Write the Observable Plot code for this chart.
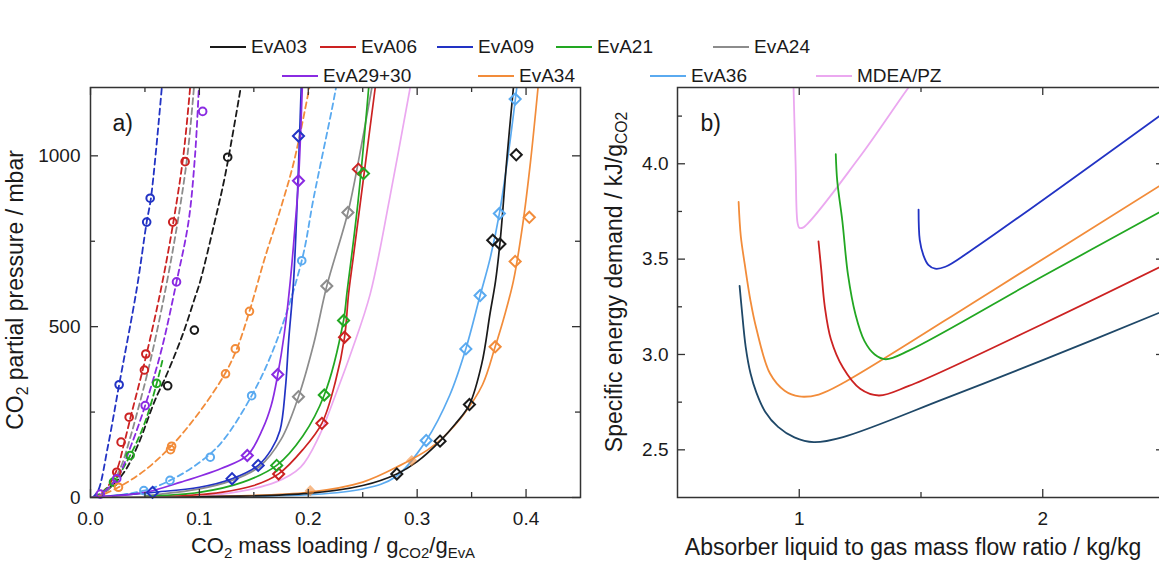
<!DOCTYPE html>
<html><head><meta charset="utf-8">
<script src="https://cdn.jsdelivr.net/npm/d3@7"></script>
<script src="https://cdn.jsdelivr.net/npm/@observablehq/plot@0.6"></script>
<style>
html,body{margin:0;padding:0;background:#fff;overflow:hidden;width:1159px;height:565px}
#root{position:relative;width:1159px;height:565px;overflow:hidden;font-family:"Liberation Sans",Arial,sans-serif;color:#1a1a1a}
.panel{position:absolute;top:0}
.item{position:absolute;display:flex;align-items:center;font-size:19px;line-height:20px;white-space:nowrap}
.sw{display:inline-block;height:2px;width:36px;margin-right:5px}
</style></head><body><div id="root"></div>
<script>
// ---------------- series & colours ----------------
const seriesNames = ["EvA03","EvA06","EvA09","EvA21","EvA24","EvA29+30","EvA34","EvA36","MDEA/PZ"];
const seriesColors = ["#1a1a1a","#cc2222","#2233c4","#22a722","#8c8c8c","#8a2be2","#f28c3a","#5aaaf0","#eba8f0"];
const energyColors = ["#1f4868","#cc2222","#2233c4","#22a722","#8c8c8c","#8a2be2","#f28c3a","#5aaaf0","#eba8f0"];
const legendRow1 = ["EvA03","EvA06","EvA09","EvA21","EvA24"];
const legendRow2 = ["EvA29+30","EvA34","EvA36","MDEA/PZ"];

// ---------------- panel a: CO2 loading [g/g] vs partial pressure [mbar] ----------------
// dashed curves (with circles)
const dashedEvA03 = [[0.008,0],[0.03,70],[0.044,157],[0.059,283],[0.07,360],[0.085,480],[0.096,586],[0.1006,631],[0.114,806],[0.1236,942],[0.138,1200]];
const dashedEvA06 = [[0.003,0],[0.014,25],[0.0241,80],[0.031,160],[0.038,250],[0.05,400],[0.0648,611],[0.0761,806],[0.0853,1001],[0.0915,1200]];
const dashedEvA09 = [[0.002,0],[0.007,20],[0.016,150],[0.0263,330],[0.0425,611],[0.0516,806],[0.0555,876],[0.0655,1200]];
const dashedEvA21 = [[0.004,0],[0.0211,45],[0.0364,123],[0.05,220],[0.0608,334],[0.066,400]];
const dashedEvA24 = [[0.006,0],[0.018,30],[0.028,90],[0.036,170],[0.043,250],[0.055,400],[0.069,611],[0.08,806],[0.089,1001],[0.095,1200]];
const dashedEvA2930 = [[0.006,0],[0.0241,55],[0.037,150],[0.0502,269],[0.065,430],[0.079,631],[0.09,807],[0.096,1001],[0.0995,1200]];
const dashedEvA34 = [[0.005,0],[0.0257,30],[0.05,80],[0.074,150],[0.1,250],[0.124,365],[0.135,440],[0.146,545],[0.16,700],[0.175,850],[0.187,985],[0.201,1200]];
const dashedEvA36 = [[0.01,0],[0.049,20],[0.073,50],[0.099,100],[0.12,160],[0.148,298],[0.17,450],[0.194,693],[0.205,878],[0.222,1141],[0.2255,1200]];

const circlesEvA03 = [[0.0709,327],[0.0954,490],[0.126,996]];
const circlesEvA06 = [[0.0241,74],[0.0281,162],[0.0355,235],[0.0495,373],[0.0508,420],[0.0755,806],[0.0869,983]];
const circlesEvA09 = [[0.0263,330],[0.0516,806],[0.0548,876]];
const circlesEvA21 = [[0.0211,45],[0.0364,123],[0.0608,334]];
const circlesEvA2930 = [[0.009,10],[0.0241,55],[0.0502,269],[0.079,631],[0.103,1130]];
const circlesEvA34 = [[0.0257,30],[0.0735,140],[0.0745,150],[0.124,362],[0.133,435],[0.146,545]];
const circlesEvA36 = [[0.049,20],[0.073,50],[0.11,118],[0.148,298],[0.194,693]];

// solid curves (with diamonds)
const solidEvA03 = [[0.02,0],[0.1,2],[0.2,12],[0.25,35],[0.2813,69],[0.3,105],[0.321,165],[0.335,215],[0.348,272],[0.3593,391],[0.367,540],[0.372,634],[0.3765,760],[0.3822,985],[0.3884,1200]];
const solidEvA06 = [[0.06,0],[0.12,15],[0.15,35],[0.1728,69],[0.195,140],[0.2125,217],[0.225,340],[0.2333,469],[0.237,596],[0.2412,700],[0.2518,961],[0.2615,1200]];
const solidEvA09 = [[0,0],[0.057,15],[0.1,30],[0.13,55],[0.154,94],[0.166,140],[0.174,196],[0.179,320],[0.182,460],[0.1865,634],[0.19,880],[0.192,1058],[0.1935,1200]];
const solidEvA21 = [[0.05,3],[0.1,15],[0.14,45],[0.171,94],[0.195,180],[0.2147,300],[0.2324,518],[0.2354,596],[0.2455,860],[0.2555,1200]];
const solidEvA24 = [[0.05,5],[0.1,25],[0.13,50],[0.155,90],[0.175,170],[0.191,295],[0.205,450],[0.217,619],[0.2364,834],[0.247,1000],[0.2584,1200]];
const solidEvA2930 = [[0,0],[0.05,15],[0.083,45],[0.12,85],[0.144,123],[0.158,200],[0.166,270],[0.172,360],[0.178,480],[0.1835,634],[0.188,800],[0.191,927],[0.1945,1200]];
const solidEvA34 = [[0,0],[0.1,3],[0.2,15],[0.25,45],[0.2844,94],[0.31,140],[0.324,176],[0.342,240],[0.36,330],[0.3716,441],[0.38,530],[0.3884,634],[0.397,800],[0.404,980],[0.411,1200]];
const solidEvA36 = [[0.02,0],[0.1,2],[0.2,8],[0.25,25],[0.28,60],[0.3083,167],[0.33,300],[0.3447,435],[0.3578,591],[0.367,700],[0.3755,831],[0.3835,1000],[0.3915,1200]];
const solidMDEA = [[0.05,0],[0.12,10],[0.17,45],[0.193,89],[0.21,180],[0.225,300],[0.24,430],[0.2569,596],[0.275,880],[0.2936,1200]];

const diamondsEvA03 = [[0.2813,69],[0.321,165],[0.348,272],[0.3694,753],[0.376,742],[0.391,1003]];
const diamondsEvA06 = [[0.1728,69],[0.2125,217],[0.2333,469],[0.246,961]];
const diamondsEvA09 = [[0.057,15],[0.13,55],[0.154,94],[0.191,1058]];
const diamondsEvA21 = [[0.171,94],[0.2147,300],[0.2324,518],[0.2507,948]];
const diamondsEvA24 = [[0.191,295],[0.217,619],[0.2364,834]];
const diamondsEvA2930 = [[0.144,123],[0.172,360],[0.191,927]];
const diamondsEvA34 = [[0.3716,441],[0.39,691],[0.403,820]];
const diamondsEvA36 = [[0.3083,167],[0.3447,435],[0.3578,591],[0.3755,831],[0.39,1166]];
const filledEvA34 = [[0.2018,20],[0.295,108]];

// ---------------- panel b: L/G ratio [kg/kg] vs specific energy [kJ/gCO2] ----------------
const energyEvA03 = [[0.755,3.36],[0.763,3.25],[0.78,3.04],[0.8,2.9],[0.824,2.8],[0.86,2.7],[0.913,2.62],[0.98,2.565],[1.06,2.54],[1.18,2.567],[1.6,2.77],[2.0,2.97],[2.5,3.23]];
const energyEvA06 = [[1.079,3.593],[1.09,3.45],[1.105,3.25],[1.13,3.08],[1.18,2.93],[1.25,2.82],[1.327,2.785],[1.45,2.835],[2.0,3.16],[2.5,3.47]];
const energyEvA09 = [[1.49,3.76],[1.495,3.6],[1.51,3.52],[1.53,3.47],[1.558,3.45],[1.6,3.46],[1.7,3.54],[2.5,4.27]];
const energyEvA21 = [[1.15,4.05],[1.156,3.91],[1.177,3.7],[1.2,3.42],[1.231,3.21],[1.268,3.07],[1.31,3.0],[1.355,2.975],[1.45,3.02],[2.0,3.41],[2.5,3.76]];
const energyEvA34 = [[0.751,3.8],[0.76,3.62],[0.776,3.475],[0.8,3.28],[0.823,3.14],[0.88,2.9],[0.94,2.81],[1.0,2.78],[1.08,2.79],[1.18,2.85],[1.8,3.34],[2.5,3.9]];
const energyMDEA = [[0.9755,4.45],[0.985,4.0],[0.993,3.69],[1.0,3.665],[1.015,3.665],[1.245,4.03],[1.449,4.4],[1.48,4.45]];

// ticks
const xMajorA = [0,0.1,0.2,0.3,0.4], xMinorA = [0.05,0.15,0.25,0.35];
const yMajorA = [0,500,1000], yMinorA = [250,750];
const xMajorB = [1,2], xMinorB = [1.5];
const yMajorB = [2.5,3.0,3.5,4.0], yMinorB = [2.75,3.25,3.75,4.25];

// ---------------- helpers ----------------
function toRows(groups){
  const out = [];
  for (const [s, arr] of groups) for (const [x,y] of arr) out.push({s, x, y});
  return out;
}
const dashedRows = toRows([["EvA03",dashedEvA03],["EvA06",dashedEvA06],["EvA09",dashedEvA09],["EvA21",dashedEvA21],["EvA24",dashedEvA24],["EvA29+30",dashedEvA2930],["EvA34",dashedEvA34],["EvA36",dashedEvA36]]);
const circleRows = toRows([["EvA03",circlesEvA03],["EvA06",circlesEvA06],["EvA09",circlesEvA09],["EvA21",circlesEvA21],["EvA29+30",circlesEvA2930],["EvA34",circlesEvA34],["EvA36",circlesEvA36]]);
const solidRows = toRows([["MDEA/PZ",solidMDEA],["EvA24",solidEvA24],["EvA21",solidEvA21],["EvA06",solidEvA06],["EvA09",solidEvA09],["EvA29+30",solidEvA2930],["EvA36",solidEvA36],["EvA34",solidEvA34],["EvA03",solidEvA03]]);
const diamondRows = toRows([["EvA03",diamondsEvA03],["EvA06",diamondsEvA06],["EvA09",diamondsEvA09],["EvA21",diamondsEvA21],["EvA24",diamondsEvA24],["EvA29+30",diamondsEvA2930],["EvA34",diamondsEvA34],["EvA36",diamondsEvA36]]);
const filledRows = toRows([["EvA34",filledEvA34]]);
const energyRows = toRows([["MDEA/PZ",energyMDEA],["EvA09",energyEvA09],["EvA34",energyEvA34],["EvA21",energyEvA21],["EvA06",energyEvA06],["EvA03",energyEvA03]]);

const FONT = "Liberation Sans, Arial, sans-serif";
const H = 565, MT = 87, MB = 68;
const innerH = H - MT - MB;

function frameTicks(xMaj, xMin, yMaj, yMin, innerW){
  const st = {stroke:"#333", strokeWidth:1.3};
  return [
    Plot.tickX(xMaj, {x:d=>d, insetTop: innerH-8, ...st}),
    Plot.tickX(xMaj, {x:d=>d, insetBottom: innerH-8, ...st}),
    Plot.tickX(xMin, {x:d=>d, insetTop: innerH-5, ...st}),
    Plot.tickX(xMin, {x:d=>d, insetBottom: innerH-5, ...st}),
    Plot.tickY(yMaj, {y:d=>d, insetRight: innerW-8, ...st}),
    Plot.tickY(yMaj, {y:d=>d, insetLeft: innerW-8, ...st}),
    Plot.tickY(yMin, {y:d=>d, insetRight: innerW-5, ...st}),
    Plot.tickY(yMin, {y:d=>d, insetLeft: innerW-5, ...st}),
    Plot.frame({stroke:"#333", strokeWidth:1.5})
  ];
}

function addLabel(svg, x, y, rotate, parts, size){
  const t = d3.select(svg).append("text")
    .attr("text-anchor","middle")
    .attr("font-family", FONT)
    .attr("font-size", size)
    .attr("fill","#1a1a1a")
    .attr("transform", `translate(${x},${y}) rotate(${rotate})`);
  let sub = false;
  const off = Math.round(size*0.22);
  for (const [txt, isSub] of parts){
    const ts = t.append("tspan").text(txt);
    if (isSub && !sub){ ts.attr("dy", off).attr("font-size", size*0.68); sub = true; }
    else if (isSub) { ts.attr("font-size", size*0.68); }
    else if (!isSub && sub){ ts.attr("dy", -off); sub = false; }
  }
}

const root = document.getElementById("root");

// ---------------- legend ----------------
function legendItem(name, left, top){
  const i = seriesNames.indexOf(name);
  const d = document.createElement("div");
  d.className = "item";
  d.style.left = left + "px"; d.style.top = top + "px";
  const sw = document.createElement("span");
  sw.className = "sw"; sw.style.background = seriesColors[i];
  d.appendChild(sw);
  d.appendChild(document.createTextNode(name));
  root.appendChild(d);
}
const row1Left = [210, 320, 437, 556, 713];
const row2Left = [282, 478, 650, 816];
legendRow1.forEach((n,k)=>legendItem(n, row1Left[k], 37));
legendRow2.forEach((n,k)=>legendItem(n, row2Left[k], 66));

// ---------------- panel a ----------------
const WA = 590, MLA = 90, MRA = 10;
const innerWA = WA - MLA - MRA;
const plotA = Plot.plot({
  width: WA, height: H,
  marginLeft: MLA, marginRight: MRA, marginTop: MT, marginBottom: MB,
  style: {fontFamily: FONT, fontSize: "19px", color: "#1a1a1a", background: "transparent"},
  x: {domain:[0,0.45], ticks: xMajorA, tickSize: 0, tickPadding: 14, tickFormat: d3.format(".1f"), label: null},
  y: {domain:[0,1200], ticks: yMajorA, tickSize: 0, tickPadding: 10, tickFormat: d3.format("d"), label: null},
  color: {domain: seriesNames, range: seriesColors},
  marks: [
    Plot.line(dashedRows, {x:"x", y:"y", z:"s", stroke:"s", strokeWidth:1.8, strokeDasharray:"6,4", curve:"catmull-rom", clip:true}),
    Plot.line(solidRows, {x:"x", y:"y", z:"s", stroke:"s", strokeWidth:1.7, curve:"catmull-rom", clip:true}),
    Plot.dot(circleRows, {x:"x", y:"y", stroke:"s", r:3.8, strokeWidth:2, fill:"none"}),
    Plot.dot(diamondRows, {x:"x", y:"y", stroke:"s", symbol:"diamond2", r:5, strokeWidth:2, fill:"none"}),
    Plot.dot(filledRows, {x:"x", y:"y", fill:"s", fillOpacity:0.6, symbol:"diamond2", r:5}),
    ...frameTicks(xMajorA, xMinorA, yMajorA, yMinorA, innerWA),
    Plot.text(["a)"], {text:d=>d, frameAnchor:"top-left", dx:22, dy:36, textAnchor:"start", lineAnchor:"middle", fontSize:23})
  ]
});
plotA.classList.add("panel");
plotA.style.left = "0px";
root.appendChild(plotA);
addLabel(plotA, 23, 290, -90, [["CO",false],["2",true],[" partial pressure / mbar",false]], 23);
addLabel(plotA, 333, 553, 0, [["CO",false],["2",true],[" mass loading / g",false],["CO2",true],["/g",false],["EvA",true]], 22);

// ---------------- panel b ----------------
const WB = 585, MLB = 87, MRB = 11;
const innerWB = WB - MLB - MRB;
const plotB = Plot.plot({
  width: WB, height: H,
  marginLeft: MLB, marginRight: MRB, marginTop: MT, marginBottom: MB,
  style: {fontFamily: FONT, fontSize: "19px", color: "#1a1a1a", background: "transparent", overflow: "visible"},
  x: {domain:[0.5,2.5], ticks: xMajorB, tickSize: 0, tickPadding: 14, tickFormat: d3.format("d"), label: null},
  y: {domain:[2.25,4.4], ticks: yMajorB, tickSize: 0, tickPadding: 9, tickFormat: d3.format(".1f"), label: null},
  color: {domain: seriesNames, range: energyColors},
  marks: [
    Plot.line(energyRows, {x:"x", y:"y", z:"s", stroke:"s", strokeWidth:1.8, curve:"catmull-rom", clip:true}),
    ...frameTicks(xMajorB, xMinorB, yMajorB, yMinorB, innerWB),
    Plot.text(["b)"], {text:d=>d, frameAnchor:"top-left", dx:23, dy:36, textAnchor:"start", lineAnchor:"middle", fontSize:23})
  ]
});
plotB.classList.add("panel");
plotB.style.left = "590px";
root.appendChild(plotB);
addLabel(plotB, 32, 282, -90, [["Specific energy demand / kJ/g",false],["CO2",true]], 23);
addLabel(plotB, 323, 555, 0, [["Absorber liquid to gas mass flow ratio / kg/kg",false]], 23);
</script></body></html>
